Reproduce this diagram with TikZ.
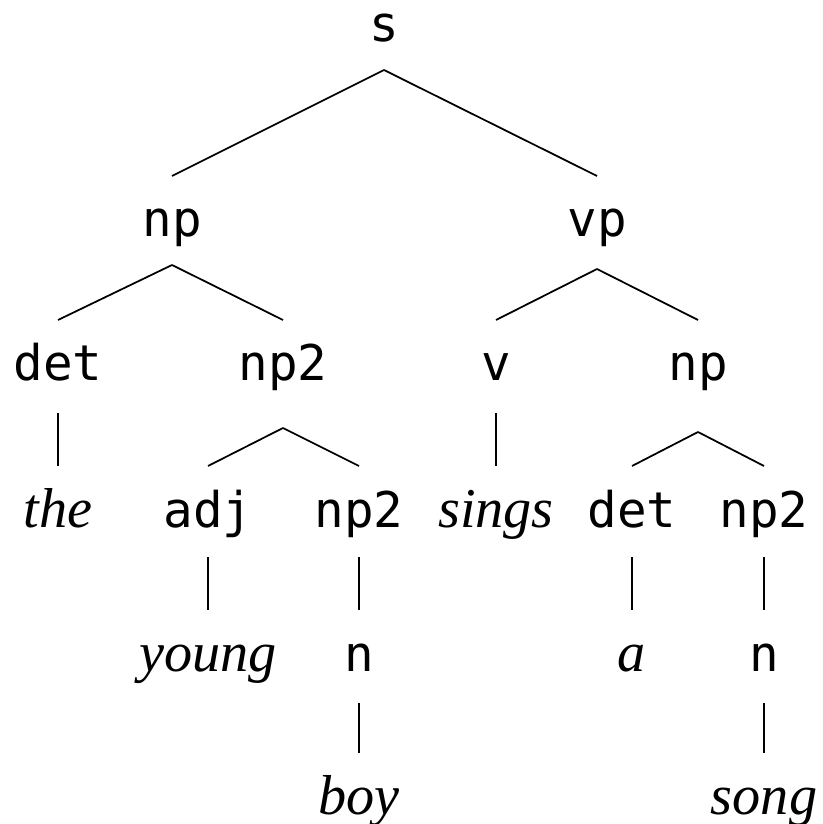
\documentclass[tikz,border=0pt]{standalone}
\usepackage{fontspec}
\setmonofont{DejaVu Sans Mono}
\newfontfamily\wordfont{Liberation Serif}
\usepackage{tikz}
\usetikzlibrary{calc}

\tikzset{
  cat/.style={anchor=base,inner sep=0pt,font=\fontsize{14}{16}\selectfont\ttfamily},
  word/.style={anchor=base,inner sep=0pt,font=\fontsize{16}{18}\selectfont\wordfont\itshape},
  branch/.style={line width=0.5pt}
}

\begin{document}
\begin{tikzpicture}
\useasboundingbox (0,0) rectangle (8.22,-8.24);
% categories
\node[cat] (s) at (3.84,-0.42) {s};
\node[cat] (np) at (1.72,-2.37) {np};
\node[cat] (vp) at (5.97,-2.37) {vp};
\node[cat] (det) at (0.58,-3.81) {det};
\node[cat] (npa) at (2.83,-3.81) {np2};
\node[cat] (v) at (4.96,-3.81) {v};
\node[cat] (npb) at (6.98,-3.81) {np};
\node[cat] (adj) at (2.08,-5.27) {adj};
\node[cat] (npc) at (3.59,-5.27) {np2};
\node[cat] (detb) at (6.32,-5.27) {det};
\node[cat] (npd) at (7.64,-5.27) {np2};
\node[cat] (n) at (3.59,-6.71) {n};
\node[cat] (nb) at (7.64,-6.71) {n};
% words
\node[word] (the) at (0.58,-5.27) {the};
\node[word] (sings) at (4.96,-5.27) {sings};
\node[word] (young) at (2.08,-6.71) {young};
\node[word] (a) at (6.32,-6.71) {a};
\node[word] (boy) at (3.59,-8.14) {boy};
\node[word] (song) at (7.64,-8.14) {song};

% branches
\foreach \p/\c/\g in {s/np/0.28,s/vp/0.28,np/det/0.28,np/npa/0.28,vp/v/0.32,vp/npb/0.32,
  npa/adj/0.47,npa/npc/0.47,npb/detb/0.51,npb/npd/0.51,
  det/the/0.32,v/sings/0.32,adj/young/0.30,npc/n/0.30,detb/a/0.30,npd/nb/0.30,
  n/boy/0.32,nb/song/0.32}
  {\draw [branch] ($(\p.base)+(0,-\g)$) -- ($(\c.base)+(0,0.61)$);}
\end{tikzpicture}
\end{document}
